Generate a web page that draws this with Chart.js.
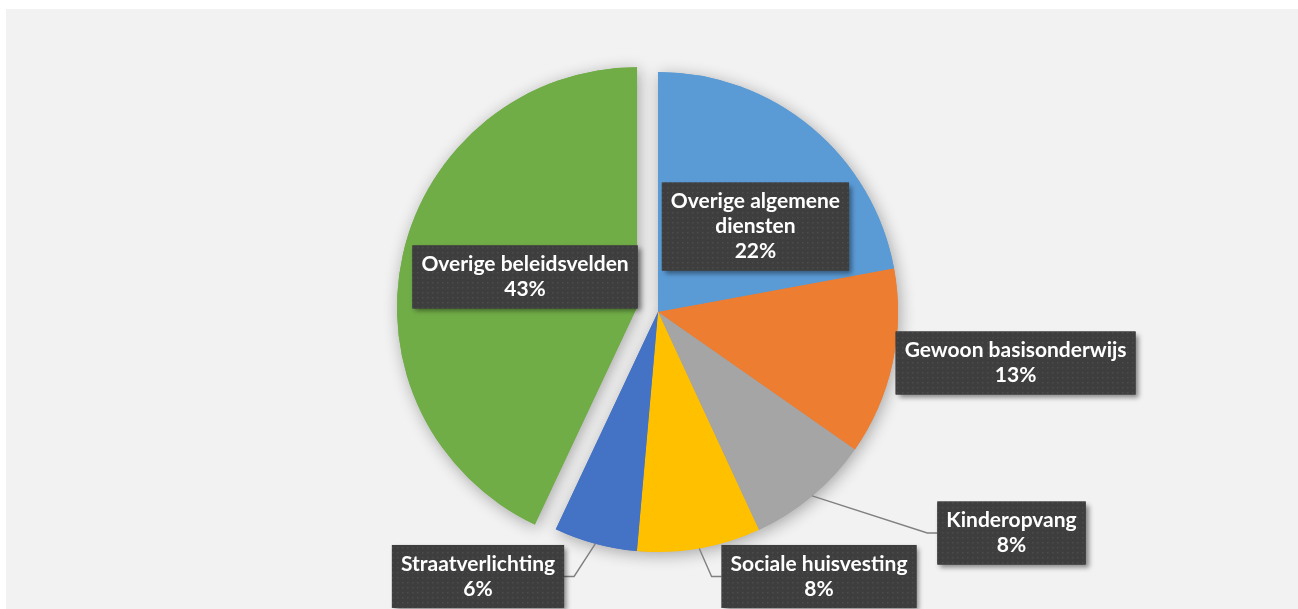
<!DOCTYPE html>
<html>
<head>
<meta charset="utf-8">
<script src="https://cdn.jsdelivr.net/npm/chart.js@4.4.1/dist/chart.umd.min.js"></script>
<style>
  html, body { margin: 0; padding: 0; background: #fff; }
  #wrap { width: 1298px; height: 609px; position: relative; }
</style>
</head>
<body>
<div id="wrap"><canvas id="chart"></canvas></div>
<script>
const CATEGORIES = [
  ["Overige algemene", "diensten"],
  ["Gewoon basisonderwijs"],
  ["Kinderopvang"],
  ["Sociale huisvesting"],
  ["Straatverlichting"],
  ["Overige beleidsvelden"]
];
// shares; labels show them rounded
const SHARES = [22.1, 12.6, 8.4, 8.3, 5.6, 43.0];
const COLORS = ["#5B9BD5", "#ED7D31", "#A5A5A5", "#FFC000", "#4472C4", "#70AD47"];
// pixels each slice is pulled out along its middle angle
const EXPLODE = [0, 0, 0, 0, 0, 21.5];

// label box centre relative to pie centre, in units of radius
const LABEL_POS = [[0.406, -0.356], [1.49, 0.2125], [1.473, 0.921], [0.671, 1.102], [-0.75, 1.102], [-0.554, -0.146]];
const HAS_LEADER = [false, false, true, true, true, false];

const LABEL_FONT = "bold 21px Lato";
const LINE_H = 25;
const PAD_X = 9;
const PAD_Y = 6.5;

function dotPattern(ctx) {
  const p = document.createElement("canvas");
  p.width = 5; p.height = 5;
  const g = p.getContext("2d");
  g.fillStyle = "#3e3e3e";
  g.fillRect(0, 0, 5, 5);
  g.fillStyle = "#4c4c4c";
  g.fillRect(2, 2, 1.5, 1.5);
  return ctx.createPattern(p, "repeat");
}

const backgroundPlugin = {
  id: "bg",
  beforeDraw(chart) {
    const ctx = chart.ctx;
    ctx.save();
    ctx.fillStyle = "#F2F2F2";
    ctx.fillRect(6, 9, chart.width, chart.height);
    ctx.restore();
  }
};

// move exploded slices without growing them (the built-in offset also enlarges the arc)
const explodePlugin = {
  id: "explode",
  afterUpdate(chart) {
    const meta = chart.getDatasetMeta(0);
    const first = meta.data[0];
    chart.$pieCentre = { x: first.x, y: first.y, r: first.outerRadius };
    meta.data.forEach((arc, i) => {
      const e = EXPLODE[i] || 0;
      if (!e) return;
      const mid = (arc.startAngle + arc.endAngle) / 2;
      arc.x += Math.cos(mid) * e;
      arc.y += Math.sin(mid) * e;
    });
  }
};

// soft outer shadow under the slices
const shadowPlugin = {
  id: "sliceShadow",
  beforeDatasetsDraw(chart) {
    const ctx = chart.ctx;
    const meta = chart.getDatasetMeta(0);
    ctx.save();
    ctx.shadowColor = "rgba(0,0,0,0.32)";
    ctx.shadowBlur = 16;
    ctx.shadowOffsetX = 2;
    ctx.shadowOffsetY = 3;
    meta.data.forEach(arc => arc.draw(ctx));
    ctx.restore();
  }
};

const labelPlugin = {
  id: "boxLabels",
  afterDatasetsDraw(chart) {
    const ctx = chart.ctx;
    const meta = chart.getDatasetMeta(0);
    const total = SHARES.reduce((a, b) => a + b, 0);
    const pattern = dotPattern(ctx);
    const { x, y, r } = chart.$pieCentre;
    ctx.save();
    ctx.font = LABEL_FONT;
    meta.data.forEach((arc, i) => {
      const lines = [].concat(CATEGORIES[i], Math.round(SHARES[i] / total * 100) + "%");
      const w = Math.max(...lines.map(l => ctx.measureText(l).width)) + 2 * PAD_X;
      const h = lines.length * LINE_H + 2 * PAD_Y;
      const cx = x + LABEL_POS[i][0] * r;
      const cy = y + LABEL_POS[i][1] * r;
      const left = cx - w / 2, top = cy - h / 2;

      if (HAS_LEADER[i]) {
        const mid = (arc.startAngle + arc.endAngle) / 2;
        const ax = x + Math.cos(mid) * r, ay = y + Math.sin(mid) * r;
        const onRight = ax > cx;
        const side = onRight ? left + w : left;
        const dir = onRight ? 1 : -1;
        ctx.beginPath();
        ctx.moveTo(ax, ay);
        ctx.lineTo(side + dir * 10, cy);
        ctx.lineTo(side, cy);
        ctx.strokeStyle = "#808080";
        ctx.lineWidth = 1.4;
        ctx.stroke();
      }

      ctx.save();
      ctx.shadowColor = "rgba(0,0,0,0.45)";
      ctx.shadowBlur = 5;
      ctx.shadowOffsetX = 3;
      ctx.shadowOffsetY = 3;
      ctx.fillStyle = "#404040";
      ctx.fillRect(left, top, w, h);
      ctx.restore();
      ctx.fillStyle = pattern;
      ctx.fillRect(left, top, w, h);

      ctx.fillStyle = "#ffffff";
      ctx.textAlign = "center";
      ctx.textBaseline = "middle";
      lines.forEach((l, k) => ctx.fillText(l, cx, top + PAD_Y + LINE_H * (k + 0.5)));
    });
    ctx.restore();
  }
};

new Chart(document.getElementById("chart"), {
  type: "pie",
  data: {
    labels: CATEGORIES,
    datasets: [{
      data: SHARES,
      backgroundColor: COLORS,
      borderWidth: 0
    }]
  },
  options: {
    responsive: true,
    maintainAspectRatio: false,
    animation: false,
    radius: 240,
    layout: { padding: { left: 18, top: 15, right: 0, bottom: 0 } },
    plugins: {
      legend: { display: false },
      tooltip: { enabled: false }
    }
  },
  plugins: [backgroundPlugin, explodePlugin, shadowPlugin, labelPlugin]
});
</script>
</body>
</html>
